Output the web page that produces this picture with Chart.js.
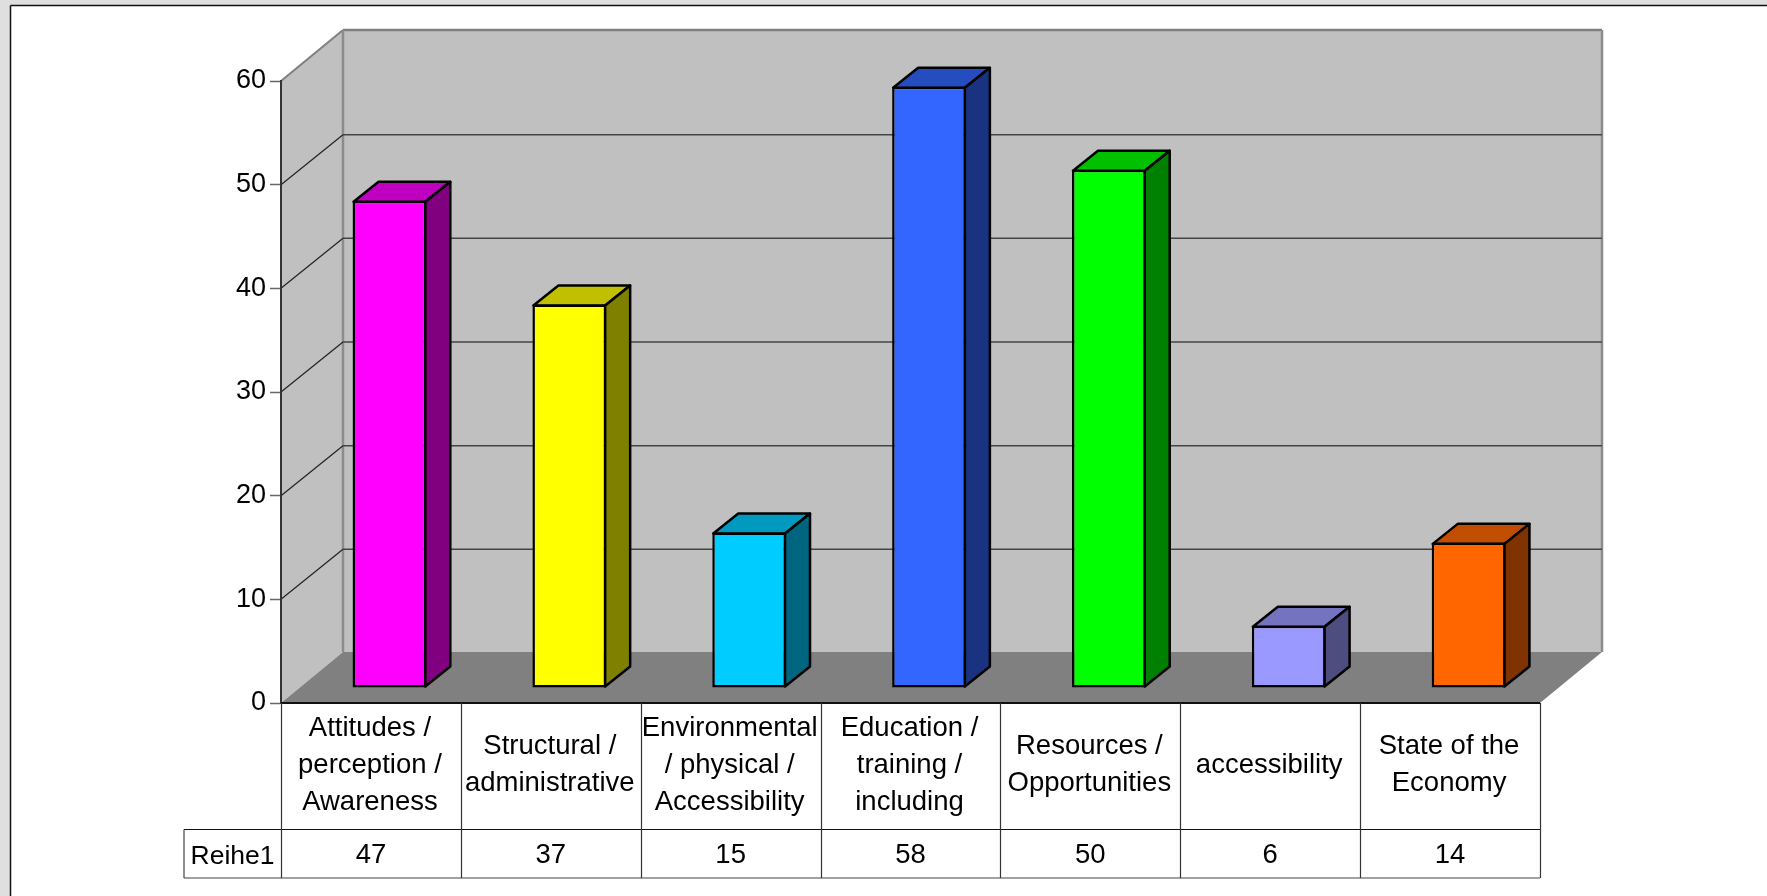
<!DOCTYPE html>
<html>
<head>
<meta charset="utf-8">
<style>
html, body { margin: 0; padding: 0; background: #fff; overflow: hidden; }
canvas { display: block; }
</style>
<script src="https://cdn.jsdelivr.net/npm/chart.js@4"></script>
</head>
<body>
<canvas id="chart" width="1767" height="896"></canvas>
<script>
const categories = [
    ['Attitudes /', 'perception /', 'Awareness'],
    ['Structural /', 'administrative'],
    ['Environmental', '/ physical /', 'Accessibility'],
    ['Education /', 'training /', 'including'],
    ['Resources /', 'Opportunities'],
    ['accessibility'],
    ['State of the', 'Economy']
]
const seriesName = 'Reihe1'
const values = [47, 37, 15, 58, 50, 6, 14]
const tickStep = 10
const tickMax = 60

const frontColors = ['#ff00ff', '#ffff00', '#00ccff', '#3366ff', '#00ff00', '#9999ff', '#ff6600']
const sideColors = ['#800080', '#808000', '#006680', '#1a3380', '#008000', '#4d4d80', '#803300']
const topColors = ['#c000c0', '#c0c000', '#009ac0', '#264dc0', '#00c000', '#7373c0', '#c04d00']

const font = '27.5px "Liberation Sans"'

// depth of the box and shift of the bars off the front edge
const wallDx = 62, wallDy = 51, gridDy = 50
const barDx = 18.5, barDy = 15
const sideDx = 25, sideDy = 20

function poly(ctx, pts, fill, stroke, lw) {
    ctx.beginPath()
    pts.forEach((p, i) => i ? ctx.lineTo(p[0], p[1]) : ctx.moveTo(p[0], p[1]))
    ctx.closePath()
    if (fill) { ctx.fillStyle = fill; ctx.fill() }
    if (stroke) { ctx.strokeStyle = stroke; ctx.lineWidth = lw; ctx.stroke() }
}

function line(ctx, x1, y1, x2, y2, color, lw) {
    ctx.beginPath()
    ctx.moveTo(x1, y1)
    ctx.lineTo(x2, y2)
    ctx.strokeStyle = color
    ctx.lineWidth = lw
    ctx.stroke()
}

const box3d = {
    id: 'box3d',
    beforeDraw(chart) {
        const ctx = chart.ctx, a = chart.chartArea, y = chart.scales.y
        ctx.save()
        // page frame
        ctx.fillStyle = '#dfdfdf'
        ctx.fillRect(0, 0, 1767, 896)
        ctx.fillStyle = '#fff'
        ctx.fillRect(11, 6, 1756, 890)
        line(ctx, 10.5, 5.5, 1767, 5.5, '#111', 1.5)
        line(ctx, 10.5, 5.5, 10.5, 896, '#111', 1.5)

        // walls and floor
        const top = y.getPixelForValue(tickMax), zero = y.getPixelForValue(0)
        const backLeft = a.left + wallDx, backRight = a.right + wallDx
        poly(ctx, [[a.left, zero], [a.left, top], [backLeft, top - wallDy], [backLeft, zero - wallDy]], '#c0c0c0')
        ctx.fillStyle = '#c0c0c0'
        ctx.fillRect(backLeft, top - wallDy, a.right - a.left, zero - top)
        poly(ctx, [[a.left, zero], [backLeft, zero - wallDy], [backRight, zero - wallDy], [a.right, zero]], '#808080')
        line(ctx, a.left, top, backLeft, top - wallDy, '#808080', 2)
        line(ctx, backLeft, top - wallDy, backRight, top - wallDy, '#808080', 2.5)
        line(ctx, backLeft, top - wallDy, backLeft, zero - wallDy, '#8c8c8c', 2.5)
        line(ctx, backRight, top - wallDy, backRight, zero - wallDy, '#8c8c8c', 2.5)

        // grid lines round the walls
        for (let v = tickStep; v < tickMax; v += tickStep) {
            const py = y.getPixelForValue(v)
            line(ctx, a.left, py, backLeft, py - gridDy, '#222', 1.2)
            line(ctx, backLeft, py - gridDy, backRight, py - gridDy, '#444', 1.5)
        }
        ctx.restore()
    },
    beforeDatasetsDraw(chart) {
        const ctx = chart.ctx
        ctx.save()
        ctx.translate(barDx, -barDy)
        ctx.lineJoin = 'round'
        chart.getDatasetMeta(0).data.forEach((bar, i) => {
            const l = bar.x - bar.width / 2 + 1, r = bar.x + bar.width / 2 - 1
            const t = bar.y + 1, b = bar.base - 1
            poly(ctx, [[l, t], [r, t], [r + sideDx, t - sideDy], [l + sideDx, t - sideDy]], topColors[i], '#000', 2.5)
            poly(ctx, [[r, t], [r + sideDx, t - sideDy], [r + sideDx, b - sideDy], [r, b]], sideColors[i], '#000', 2.5)
        })
        ctx.restore()
    },
    beforeDatasetDraw(chart) {
        chart.ctx.save()
        chart.ctx.translate(barDx, -barDy)
    },
    afterDatasetDraw(chart) {
        chart.ctx.restore()
    },
    afterDraw(chart) {
        // data table under the chart
        const ctx = chart.ctx, a = chart.chartArea, x = chart.scales.x
        const row0 = a.bottom, row1 = 829.5, row2 = 878, labelLeft = 184
        const step = (a.right - a.left) / categories.length
        ctx.save()
        ctx.font = font
        ctx.textAlign = 'center'
        ctx.textBaseline = 'middle'
        line(ctx, a.left, row0, a.right, row0, '#111', 2)
        line(ctx, labelLeft, row1, a.right, row1, '#111', 1.2)
        line(ctx, labelLeft, row2, a.right, row2, '#444', 1.2)
        line(ctx, labelLeft, row1, labelLeft, row2, '#444', 1.2)
        for (let i = 0; i <= categories.length; i++) {
            const px = Math.round(a.left + step * i) + 0.5
            line(ctx, px, row0, px, row2, '#333', 1.2)
        }
        ctx.fillStyle = '#000'
        categories.forEach((lines, i) => {
            const cx = x.getPixelForValue(i)
            const mid = (row0 + row1) / 2 - 1
            lines.forEach((s, j) => {
                ctx.fillText(s, cx - 1, mid + (j - (lines.length - 1) / 2) * 37)
            })
            ctx.fillText(String(values[i]), cx, (row1 + row2) / 2 + 2)
        })
        ctx.font = '26.5px "Liberation Sans"'
        ctx.fillText(seriesName, (labelLeft + a.left) / 2, (row1 + row2) / 2 + 3)
        ctx.restore()
    }
}

new Chart(document.getElementById('chart'), {
    type: 'bar',
    data: {
        labels: categories,
        datasets: [{
            label: seriesName,
            data: values,
            backgroundColor: frontColors,
            borderColor: '#000',
            borderWidth: 2.5,
            borderSkipped: false,
            barPercentage: 0.41,
            categoryPercentage: 1,
            clip: false
        }]
    },
    options: {
        responsive: false,
        animation: false,
        devicePixelRatio: 1,
        layout: { padding: { left: 0, top: 81, right: 227, bottom: 193 } },
        plugins: { legend: { display: false }, tooltip: { enabled: false } },
        scales: {
            x: { display: false },
            y: {
                min: 0,
                max: tickMax,
                afterFit(scale) { scale.width = 281 },
                ticks: {
                    stepSize: tickStep,
                    color: '#000',
                    padding: 4,
                    font: { family: 'Liberation Sans', size: 27 }
                },
                grid: { drawOnChartArea: false, tickLength: 11, tickColor: '#666', tickWidth: 1.5 },
                border: { color: '#333', width: 2 }
            }
        }
    },
    plugins: [box3d]
})
</script>
</body>
</html>
